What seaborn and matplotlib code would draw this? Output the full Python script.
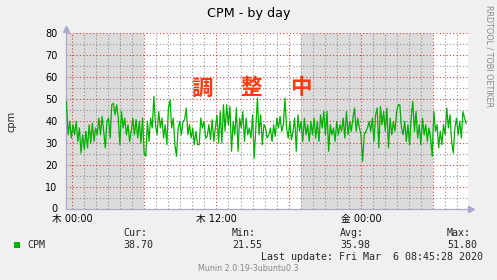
import numpy as np
import pandas as pd
import matplotlib
matplotlib.use('Agg')
import matplotlib.pyplot as plt
import seaborn as sns

# ---- data ----
cpm = [
    48.8, 33.6, 39.7, 32.1, 38.2, 33.6, 39.7, 30.6, 36.7, 25.3, 33.6, 26.8, 35.2, 27.6,
    38.2, 29.8, 38.9, 30.6, 36.7, 33.6, 41.2, 33.6, 42.0, 35.2, 27.6, 39.7, 41.2, 32.1,
    47.3, 48.0, 42.7, 47.3, 41.2, 29.1, 44.2, 36.7, 41.2, 33.6, 38.2, 30.6, 35.2,
    41.2, 33.6, 40.5, 32.1, 39.7, 29.8, 41.2, 25.3, 23.8, 39.7, 30.6, 41.2, 36.7, 51.1,
    38.2, 33.6, 44.2, 36.7, 41.2, 32.1, 38.2, 29.1, 45.8, 49.5, 36.7, 41.2, 29.1, 23.8,
    36.7, 39.7, 33.6, 39.7, 40.5, 45.8, 33.6, 38.2, 32.1, 36.7, 29.1, 35.2, 29.1,
    29.1, 41.2, 36.7, 39.7, 32.1, 32.9, 38.2, 31.4, 40.5, 30.6, 36.7, 42.7, 29.8, 44.2,
    29.8, 47.3, 35.2, 47.3, 38.2, 46.5, 26.1, 39.7, 33.6, 45.8, 26.1, 41.2, 36.7, 44.2,
    30.6, 41.2, 33.6, 36.7, 32.1, 42.7, 23.0, 36.7, 50.3, 33.6, 42.7, 29.1, 38.2,
    36.7, 32.1, 33.6, 36.7, 30.6, 38.2, 32.9, 41.2, 36.7, 42.0, 35.2, 38.2, 50.3, 36.7,
    32.1, 39.7, 31.4, 35.2, 41.2, 26.1, 42.7, 35.2, 39.7, 30.6, 41.2, 33.6, 38.2, 30.6,
    39.7, 33.6, 41.2, 32.1, 39.7, 30.6, 42.7, 36.7, 44.2, 33.6, 44.2, 26.1, 38.2, 33.6,
    36.7, 30.6, 39.7, 33.6, 38.2, 35.2, 41.2, 32.1, 44.2, 33.6, 39.7, 35.2, 41.2, 45.8,
    35.2, 41.2, 36.7, 33.6, 21.6, 33.6, 35.2, 36.7, 39.7, 35.2, 41.2, 30.6, 42.7, 45.8,
    27.6, 46.5, 38.2, 44.2, 35.2, 45.8, 27.6, 41.2, 33.6, 39.7, 35.2, 44.2, 47.3,
    47.3, 36.7, 33.6, 39.7, 30.6, 38.2, 29.1, 41.2, 48.8, 35.2, 44.2, 32.1, 38.2, 29.1,
    41.2, 33.6, 38.2, 30.6, 36.7, 32.1, 23.8, 44.2, 35.2, 38.2, 27.6, 35.2, 29.1, 38.2,
    33.6, 45.8, 36.7, 42.7, 30.6, 25.3, 36.7, 41.2, 33.6, 39.7, 32.1, 44.2, 41.2, 38.7,
]
hour_start, hour_end = -0.46, 32.75          # Wed 23:30 -> Fri 08:45 (hours from Thu 00:00)
xtick_hours = [0, 12, 24]
xtick_labels = ['木 00:00', '木 12:00', '金 00:00']
ytick_values = [0, 10, 20, 30, 40, 50, 60, 70, 80]
night_spans = [(-0.5, 6.0), (19.0, 30.0)]
stat_names = ['Cur:', 'Min:', 'Avg:', 'Max:']
stat_values = ['38.70', '21.55', '35.98', '51.80']
series_name = 'CPM'
title = 'CPM - by day'
y_label = 'cpm'
banner_chars = ['調', '整', '中']
last_update = 'Last update: Fri Mar  6 08:45:28 2020'
footer = 'Munin 2.0.19-3ubuntu0.3'
side_text = 'RRDTOOL / TOBI OETIKER'

# ---- drawing ----
sns.set_theme(style='white')
plt.rcParams['font.family'] = ['DejaVu Sans', 'Noto Sans CJK JP']

W, H = 497, 280
BG = '#f0f0f0'
fig = plt.figure(figsize=(W / 100, H / 100), dpi=100, facecolor=BG)


def fx(px):
    return px / W


def fy(py):
    return 1 - py / H


L, R, T, B = 66, 468, 33, 208.5
ax = fig.add_axes([fx(L), fy(B), (R - L) / W, (B - T) / H])
ax.set_facecolor('white')
ax.set_xlim(-0.5, 32.9)
ax.set_ylim(0, 80)

for a, b in night_spans:
    ax.axvspan(a, b, color='#dcdcdc', lw=0, zorder=0)

red = (0.80, 0.22, 0.22)
gray = (0.50, 0.50, 0.50)
for h in range(0, 33):
    major = h % 6 == 0
    ax.axvline(h, color=red if major else gray, lw=0.8, ls=(0, (1, 2)),
               alpha=0.95 if major else 0.85, zorder=1)
for v in range(5, 81, 5):
    major = v % 10 == 0
    ax.axhline(v, color=red if major else gray, lw=0.8, ls=(0, (1, 2)),
               alpha=0.95 if major else 0.85, zorder=1)

df = pd.DataFrame({'hour': np.linspace(hour_start, hour_end, len(cpm)), 'cpm': cpm})
sns.lineplot(data=df, x='hour', y='cpm', color='#00b000', lw=0.9, ax=ax, zorder=3)

axis_col = '#a8a8d0'
for s in ['top', 'right']:
    ax.spines[s].set_visible(False)
for s in ['left', 'bottom']:
    ax.spines[s].set_color(axis_col)
    ax.spines[s].set_linewidth(0.9)
ax.plot([1.008], [0], marker='>', ms=4, color=axis_col, transform=ax.transAxes, clip_on=False)
ax.plot([0], [1.025], marker='^', ms=4, color=axis_col, transform=ax.transAxes, clip_on=False)

ax.set_xticks(xtick_hours)
ax.set_xticklabels(xtick_labels, fontsize=7, family=['DejaVu Sans', 'Noto Sans CJK JP'])
ax.set_yticks(ytick_values)
ax.set_yticklabels([str(v) for v in ytick_values], fontsize=7)
ax.tick_params(axis='both', length=2, width=0.6, color='#777777', pad=2, colors='black')
ax.tick_params(axis='y', pad=4)
ax.set_xlabel('')
ax.set_ylabel('')

# texts
fig.text(fx(248.5), fy(13.5), title, fontsize=9.2, ha='center', va='center', color='black')
fig.text(fx(11.5), fy(121), y_label, fontsize=7, rotation=90, ha='center', va='center')
fig.text(fx(488.5), fy(56), side_text, fontsize=5.8, rotation=-90, ha='center', va='center',
         color='#888888')
for ch, cx in zip(banner_chars, [202.5, 251.5, 300.5]):
    fig.text(fx(cx), fy(88), ch, fontsize=15.5, fontweight='bold', ha='center', va='center',
             color='#ff3a10', family=['Noto Sans CJK JP'])

mono = 'DejaVu Sans Mono'
fig.patches.append(plt.Rectangle((fx(14), fy(248)), 6 / W, 6 / H, transform=fig.transFigure,
                                 color='#00b000', lw=0))
fig.text(fx(27), fy(244.5), series_name, fontsize=7.2, family=mono, ha='left', va='center')
for name, val, cx in zip(stat_names, stat_values, [123, 232, 340, 447]):
    fig.text(fx(cx), fy(232.5), name, fontsize=7.2, family=mono, ha='left', va='center')
    fig.text(fx(cx), fy(244.5), val, fontsize=7.2, family=mono, ha='left', va='center')
fig.text(fx(483), fy(256.5), last_update, fontsize=7.2, family=mono, ha='right', va='center')
fig.text(fx(248.5), fy(268.5), footer, fontsize=5.8, ha='center', va='center', color='#888888')

fig.savefig('out.png', dpi=100, facecolor=BG)
